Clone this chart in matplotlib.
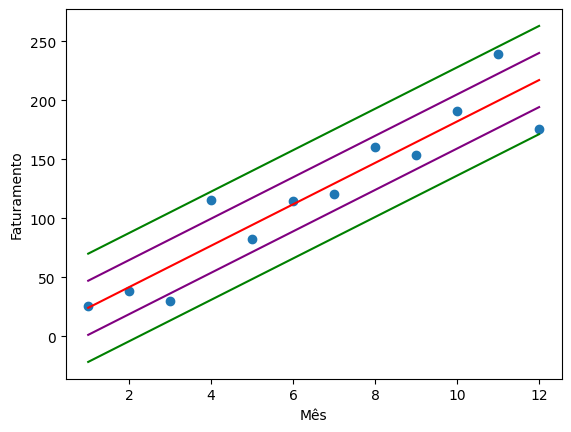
import numpy as np
from matplotlib import pyplot as plt

meses = [1, 2, 3, 4, 5, 6, 7, 8, 9, 10, 11, 12]
faturamento = [25.7, 38.1, 29.7, 115.5, 82.5, 114.7, 120.6, 160.5, 153.7, 191, 239.3, 175.4]

x = np.array(meses)
y = np.array(faturamento)

# regressao linear e desvio padrao dos residuos
a, b = np.polyfit(x, y, 1)
reta = a * x + b
desvio = np.std(y - reta)

plt.scatter(x, y)
plt.plot(x, reta, color="red")
plt.plot(x, reta + desvio, color="purple")
plt.plot(x, reta - desvio, color="purple")
plt.plot(x, reta + 2 * desvio, color="green")
plt.plot(x, reta - 2 * desvio, color="green")

plt.xlabel("Mês")
plt.ylabel("Faturamento")

plt.savefig("out.png", bbox_inches="tight")
# plt.show()
